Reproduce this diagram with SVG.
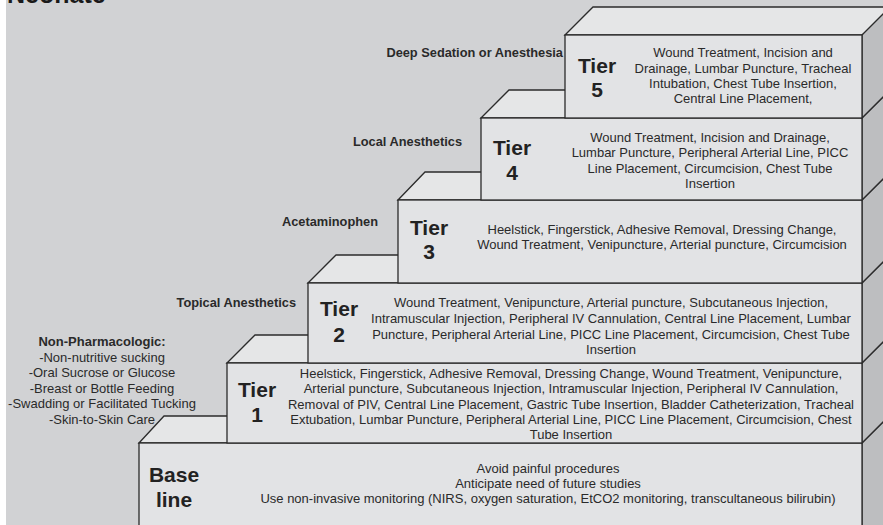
<svg xmlns="http://www.w3.org/2000/svg" width="883" height="525" viewBox="0 0 883 525">
  <style>
    .bg { fill: #d1d2d4; }
    .front { fill: #e2e3e5; stroke: #2b2b2b; stroke-width: 1.3; }
    .top { fill: #e5e6e7; stroke: #2b2b2b; stroke-width: 1.3; stroke-linejoin: miter; }
    .side { fill: #bdbec0; stroke: #2b2b2b; stroke-width: 1.3; }
    .tier { font-family: "Liberation Sans", Arial, sans-serif; font-weight: bold; font-size: 21px; fill: #222; text-anchor: middle; }
    .body { font-family: "Liberation Sans", Arial, sans-serif; font-size: 13px; fill: #2a2a2a; text-anchor: middle; }
    .label { font-family: "Liberation Sans", Arial, sans-serif; font-weight: bold; font-size: 12.8px; fill: #2a2a2a; text-anchor: end; }
    .left { font-family: "Liberation Sans", Arial, sans-serif; font-size: 13px; fill: #2a2a2a; text-anchor: middle; }
    .title { font-family: "Liberation Sans", Arial, sans-serif; font-weight: bold; font-size: 25px; fill: #1a1a1a; }
  </style>

  <rect x="0" y="0" width="883" height="525" fill="#ffffff"/>
  <rect class="bg" x="6" y="0" width="877" height="525"/>
  <text class="title" x="7" y="3">Neonate</text>

  <!-- Baseline step -->
  <g id="baseline">
    <polygon class="top" points="139,443 164,416 900,416 862,443"/>
    <polygon class="side" points="862,443 890,415 890,540 862,540"/>
    <rect class="front" x="139" y="443" width="723" height="100"/>
    <text class="tier" x="174" y="482">Base</text>
    <text class="tier" x="174" y="507">line</text>
    <text class="body" x="548" y="473">Avoid painful procedures</text>
    <text class="body" x="548" y="488">Anticipate need of future studies</text>
    <text class="body" x="548" y="503">Use non-invasive monitoring (NIRS, oxygen saturation, EtCO2 monitoring, transcultaneous bilirubin)</text>
  </g>

  <!-- Tier 1 -->
  <g id="tier1">
    <polygon class="top" points="227,363 255,335 900,335 862,363"/>
    <polygon class="side" points="862,363 890,335 890,415 862,443"/>
    <rect class="front" x="227" y="363" width="635" height="80"/>
    <text class="tier" x="257" y="397">Tier</text>
    <text class="tier" x="257" y="422">1</text>
    <text class="body" x="571" y="378">Heelstick, Fingerstick, Adhesive Removal, Dressing Change, Wound Treatment, Venipuncture,</text>
    <text class="body" x="571" y="393">Arterial puncture, Subcutaneous Injection, Intramuscular Injection, Peripheral IV Cannulation,</text>
    <text class="body" x="571" y="409">Removal of PIV, Central Line Placement, Gastric Tube Insertion, Bladder Catheterization, Tracheal</text>
    <text class="body" x="571" y="424">Extubation, Lumbar Puncture, Peripheral Arterial Line, PICC Line Placement, Circumcision, Chest</text>
    <text class="body" x="571" y="439">Tube Insertion</text>
  </g>

  <!-- Tier 2 -->
  <g id="tier2">
    <polygon class="top" points="308,283 336,255 900,255 862,283"/>
    <polygon class="side" points="862,283 890,255 890,335 862,363"/>
    <rect class="front" x="308" y="283" width="554" height="80"/>
    <text class="tier" x="339" y="316">Tier</text>
    <text class="tier" x="339" y="342">2</text>
    <text class="body" x="611" y="307">Wound Treatment, Venipuncture, Arterial puncture, Subcutaneous Injection,</text>
    <text class="body" x="611" y="323">Intramuscular Injection, Peripheral IV Cannulation, Central Line Placement, Lumbar</text>
    <text class="body" x="611" y="339">Puncture, Peripheral Arterial Line, PICC Line Placement, Circumcision, Chest Tube</text>
    <text class="body" x="611" y="354">Insertion</text>
  </g>

  <!-- Tier 3 -->
  <g id="tier3">
    <polygon class="top" points="398,200 425,172 900,172 862,200"/>
    <polygon class="side" points="862,200 890,172 890,255 862,283"/>
    <rect class="front" x="398" y="200" width="464" height="83"/>
    <text class="tier" x="429" y="235">Tier</text>
    <text class="tier" x="429" y="259">3</text>
    <text class="body" x="662" y="234">Heelstick, Fingerstick, Adhesive Removal, Dressing Change,</text>
    <text class="body" x="662" y="249">Wound Treatment, Venipuncture, Arterial puncture, Circumcision</text>
  </g>

  <!-- Tier 4 -->
  <g id="tier4">
    <polygon class="top" points="481,118 509,90 900,90 862,118"/>
    <polygon class="side" points="862,118 890,90 890,172 862,200"/>
    <rect class="front" x="481" y="118" width="381" height="82"/>
    <text class="tier" x="512" y="155">Tier</text>
    <text class="tier" x="512" y="180">4</text>
    <text class="body" x="710" y="142">Wound Treatment, Incision and Drainage,</text>
    <text class="body" x="710" y="157">Lumbar Puncture, Peripheral Arterial Line, PICC</text>
    <text class="body" x="710" y="172.5">Line Placement, Circumcision, Chest Tube</text>
    <text class="body" x="710" y="187.5">Insertion</text>
  </g>

  <!-- Tier 5 -->
  <g id="tier5">
    <polygon class="top" points="565,35 593,7 900,7 862,35"/>
    <polygon class="side" points="862,35 890,7 890,90 862,118"/>
    <rect class="front" x="565" y="35" width="297" height="83"/>
    <text class="tier" x="597" y="73">Tier</text>
    <text class="tier" x="597" y="97">5</text>
    <text class="body" x="743" y="57">Wound Treatment, Incision and</text>
    <text class="body" x="743" y="72.5">Drainage, Lumbar Puncture, Tracheal</text>
    <text class="body" x="743" y="88">Intubation, Chest Tube Insertion,</text>
    <text class="body" x="743" y="103">Central Line Placement,</text>
  </g>

  <!-- Intervention labels beside each step -->
  <g id="labels">
    <text class="label" x="563" y="57">Deep Sedation or Anesthesia</text>
    <text class="label" x="462" y="146">Local Anesthetics</text>
    <text class="label" x="378" y="226">Acetaminophen</text>
    <text class="label" x="296" y="307">Topical Anesthetics</text>
  </g>

  <g id="non-pharmacologic">
    <text class="left" x="102" y="346" font-weight="bold" font-size="12.3">Non-Pharmacologic:</text>
    <text class="left" x="102" y="362">-Non-nutritive sucking</text>
    <text class="left" x="102" y="377">-Oral Sucrose or Glucose</text>
    <text class="left" x="102" y="392.5">-Breast or Bottle Feeding</text>
    <text class="left" x="102" y="408">-Swadding or Facilitated Tucking</text>
    <text class="left" x="102" y="423.5">-Skin-to-Skin Care</text>
  </g>
</svg>
